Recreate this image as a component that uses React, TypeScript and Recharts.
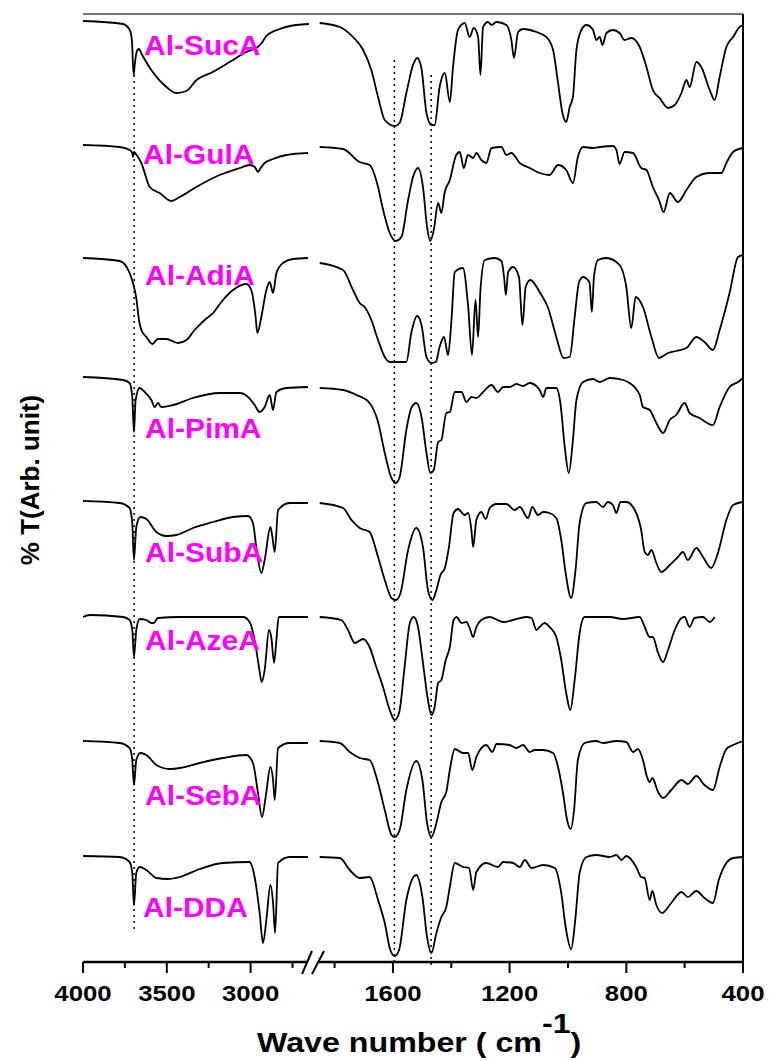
import React from 'react';
import { LineChart, Line, XAxis, YAxis, ReferenceLine } from 'recharts';

// broken wavenumber axis: 4000..2640 on the left, 1850..400 on the right
const LEFT_SCALE = 0.1676;
const RIGHT_START = 237;
const RIGHT_SCALE = 0.29172;
const pos = (w: number) => (w >= 2200 ? (4000 - w) * LEFT_SCALE : RIGHT_START + (1850 - w) * RIGHT_SCALE);
const BREAK_L = 224;
const BREAK_R = 235;

const MAJOR_TICKS = [4000, 3500, 3000, 1600, 1200, 800, 400];
const MINOR_TICKS = [3750, 3250, 2750, 1800, 1400, 1000, 600];
const MARKER_BANDS = [3695, 1595, 1469];

const names = ['Al-SucA', 'Al-GulA', 'Al-AdiA', 'Al-PimA', 'Al-SubA', 'Al-AzeA', 'Al-SebA', 'Al-DDA'];
const offsets = [941, 817, 704, 585, 461, 345, 221, 106];

// [wavenumber, %T (arb.)]
const sucA = [
  [4000, 0], [3761, -3], [3721, -9], [3708, -20], [3698, -54], [3692, -45], [3680, -31], [3666, -28], [3650, -33],
  [3584, -51], [3502, -66], [3443, -72], [3383, -70], [3323, -59], [3226, -51], [3125, -41], [3025, -31], [2958, -26],
  [2934, -22], [2906, -15], [2826, -8], [2727, -4], [2652, -3],
  [1851, -2], [1782, -6], [1737, -16], [1702, -29], [1674, -49], [1651, -76], [1628, -99], [1594, -105], [1577, -102],
  [1554, -72], [1531, -44], [1517, -37], [1503, -46], [1485, -92], [1468, -104], [1457, -104], [1440, -66], [1422, -52],
  [1405, -81], [1394, -46], [1377, -9], [1354, -2], [1337, -16], [1323, -7], [1308, -16], [1300, -54], [1291, -6],
  [1274, -1], [1262, -4], [1245, -1], [1211, -4], [1194, -19], [1185, -37], [1171, -11], [1154, -8], [1108, -11],
  [1074, -16], [1051, -29], [1034, -62], [1019, -92], [1006, -101], [994, -86], [983, -76], [971, -29], [954, -9],
  [937, -4], [914, -9], [903, -19], [891, -16], [882, -24], [868, -12], [846, -9], [823, -12], [806, -19], [783, -17],
  [754, -26], [731, -46], [709, -69], [686, -77], [657, -87], [634, -84], [611, -72], [594, -59], [583, -66], [560, -41],
  [543, -46], [514, -69], [497, -79], [480, -56], [457, -26], [434, -16], [412, -6], [400, -4],
];

const gulA = [
  [4000, 0], [3781, -2], [3721, -5], [3706, -8], [3702, -12], [3696, -7], [3680, -10], [3652, -18], [3602, -42],
  [3543, -48], [3473, -56], [3423, -52], [3324, -42], [3185, -30], [3065, -23], [3006, -20], [2975, -22], [2956, -27],
  [2940, -23], [2916, -18], [2866, -14], [2787, -10], [2657, -8],
  [1851, -2], [1771, -4], [1714, -17], [1680, -20], [1651, -42], [1636, -62], [1611, -88], [1590, -96], [1571, -92],
  [1548, -55], [1531, -32], [1514, -23], [1497, -42], [1483, -82], [1472, -96], [1460, -85], [1445, -58], [1434, -68],
  [1423, -48], [1405, -35], [1383, -10], [1371, -7], [1357, -23], [1343, -10], [1325, -13], [1314, -8], [1297, -15],
  [1280, -18], [1262, -3], [1228, -2], [1211, -10], [1194, -8], [1165, -18], [1131, -23], [1097, -28], [1063, -30],
  [1034, -20], [1006, -25], [983, -38], [966, -12], [948, -2], [914, -3], [891, -2], [846, -1], [834, -5], [823, -19],
  [806, -7], [777, -8], [749, -23], [731, -25], [709, -42], [688, -55], [672, -67], [651, -48], [623, -57], [594, -45],
  [560, -32], [514, -28], [474, -28], [457, -18], [434, -7], [400, -3],
];

const adiA = [
  [4000, 0], [3781, -3], [3722, -15], [3702, -25], [3682, -40], [3666, -62], [3652, -72], [3622, -79], [3586, -86],
  [3553, -81], [3503, -81], [3433, -85], [3383, -82], [3334, -72], [3274, -62], [3224, -55], [3165, -42], [3105, -32],
  [3025, -26], [2996, -32], [2970, -59], [2960, -75], [2936, -59], [2906, -32], [2886, -24], [2866, -35], [2846, -15],
  [2807, -5], [2747, -1], [2658, 0],
  [1851, -5], [1771, -12], [1737, -32], [1714, -45], [1697, -49], [1674, -62], [1651, -82], [1628, -99], [1611, -104],
  [1554, -104], [1537, -75], [1517, -58], [1502, -67], [1485, -99], [1468, -105], [1453, -104], [1440, -89], [1425, -79],
  [1411, -97], [1400, -65], [1388, -14], [1360, -10], [1342, -49], [1329, -97], [1317, -42], [1308, -79], [1300, -32],
  [1285, -2], [1251, 0], [1228, -3], [1219, -19], [1213, -37], [1205, -14], [1188, -9], [1168, -19], [1156, -67],
  [1145, -29], [1129, -22], [1097, -34], [1068, -50], [1040, -79], [1015, -100], [994, -99], [977, -59], [962, -24],
  [948, -19], [935, -21], [926, -25], [918, -54], [911, -19], [897, -2], [869, 0], [823, -7], [800, -29], [783, -70],
  [768, -39], [743, -49], [714, -79], [688, -100], [657, -95], [629, -93], [594, -90], [560, -79], [532, -84], [503, -92],
  [480, -72], [446, -35], [417, 1], [400, 3],
];

const pimA = [
  [4000, 0], [3761, -3], [3722, -6], [3706, -20], [3696, -55], [3686, -23], [3662, -11], [3632, -15], [3592, -23],
  [3572, -30], [3553, -26], [3533, -30], [3463, -28], [3344, -21], [3185, -16], [3065, -16], [3015, -20], [2976, -28],
  [2946, -35], [2916, -30], [2886, -18], [2866, -33], [2846, -15], [2787, -11], [2658, -10],
  [1851, -11], [1771, -13], [1725, -18], [1680, -26], [1651, -45], [1628, -76], [1605, -101], [1590, -106], [1577, -100],
  [1554, -53], [1537, -31], [1520, -26], [1502, -40], [1485, -76], [1472, -96], [1460, -93], [1445, -65], [1434, -63],
  [1417, -36], [1405, -35], [1388, -15], [1365, -15], [1348, -25], [1331, -20], [1314, -21], [1291, -15], [1262, -8],
  [1240, -15], [1222, -10], [1200, -10], [1177, -7], [1154, -9], [1131, -6], [1097, -13], [1085, -20], [1074, -11],
  [1040, -11], [1026, -26], [1011, -70], [997, -96], [983, -63], [971, -23], [948, -5], [914, -2], [891, -5], [857, -1],
  [811, -3], [789, -6], [754, -18], [743, -30], [720, -33], [697, -46], [674, -56], [651, -43], [629, -38], [600, -26],
  [583, -36], [549, -41], [503, -48], [480, -30], [446, -10], [417, -5], [400, -1],
];

const subA = [
  [4000, 0], [3781, -2], [3722, -7], [3706, -22], [3696, -59], [3682, -26], [3658, -16], [3622, -18], [3562, -31],
  [3503, -35], [3443, -34], [3344, -27], [3224, -21], [3105, -16], [3015, -15], [2986, -22], [2966, -46], [2936, -72],
  [2916, -59], [2882, -26], [2870, -36], [2856, -51], [2836, -9], [2767, -2], [2658, -2],
  [1851, -2], [1771, -7], [1742, -19], [1714, -27], [1680, -31], [1651, -56], [1628, -79], [1605, -97], [1590, -99],
  [1574, -92], [1548, -49], [1520, -27], [1497, -46], [1480, -89], [1465, -99], [1451, -89], [1437, -74], [1422, -67],
  [1408, -46], [1392, -12], [1377, -8], [1354, -14], [1342, -12], [1331, -29], [1325, -46], [1314, -19], [1297, -11],
  [1282, -18], [1268, -7], [1245, -3], [1211, -3], [1183, -9], [1165, -6], [1137, -17], [1122, -6], [1103, -14],
  [1085, -11], [1063, -12], [1040, -17], [1023, -39], [1008, -72], [989, -97], [974, -69], [960, -22], [937, -2],
  [903, -1], [880, -6], [863, -1], [846, -4], [834, -12], [820, -1], [800, -1], [771, -9], [749, -29], [737, -51],
  [726, -54], [714, -49], [697, -62], [680, -71], [651, -64], [623, -56], [606, -51], [589, -59], [560, -47], [537, -56],
  [509, -67], [486, -52], [457, -19], [434, -4], [400, -1],
];

const azeA = [
  [4000, 0], [3960, 2], [3761, 0], [3722, -3], [3706, -13], [3696, -40], [3682, -13], [3662, -2], [3622, -3],
  [3592, -6], [3578, -6], [3553, -1], [3423, 0], [3224, 0], [3045, 0], [3006, -5], [2976, -23], [2950, -50],
  [2934, -65], [2916, -53], [2890, -13], [2876, -21], [2860, -46], [2846, -23], [2832, 0], [2658, 0],
  [1851, 0], [1777, -3], [1754, -13], [1731, -26], [1702, -22], [1680, -30], [1657, -50], [1634, -70], [1611, -93],
  [1594, -103], [1579, -96], [1560, -50], [1542, -6], [1529, 0], [1514, -10], [1497, -46], [1480, -83], [1468, -98],
  [1457, -90], [1445, -66], [1434, -63], [1419, -43], [1405, -30], [1392, -3], [1382, 0], [1365, -6], [1348, -5],
  [1337, -11], [1325, -20], [1314, -10], [1297, -3], [1268, 0], [1222, -5], [1188, -3], [1143, 0], [1125, -1],
  [1108, -13], [1097, -10], [1080, -6], [1063, -10], [1040, -20], [1023, -43], [1006, -76], [992, -93], [977, -63],
  [960, -16], [943, 0], [903, 0], [857, 0], [811, -2], [754, 0], [737, -10], [720, -20], [709, -20], [691, -36],
  [674, -45], [657, -33], [634, -13], [611, -1], [600, 0], [583, -10], [566, -1], [537, 0], [514, -5], [497, 0],
];

const sebA = [
  [4000, 0], [3781, -2], [3722, -7], [3706, -19], [3696, -44], [3682, -19], [3658, -12], [3622, -14], [3562, -24],
  [3483, -28], [3423, -27], [3304, -22], [3165, -17], [3025, -14], [2986, -22], [2956, -52], [2932, -76], [2910, -56],
  [2882, -26], [2866, -39], [2856, -59], [2836, -7], [2767, -2], [2658, -2],
  [1851, 0], [1782, -2], [1748, -11], [1714, -17], [1680, -19], [1651, -42], [1628, -69], [1605, -94], [1594, -96],
  [1577, -89], [1554, -49], [1520, -20], [1499, -39], [1483, -82], [1468, -96], [1451, -82], [1434, -61], [1417, -51],
  [1405, -29], [1388, -8], [1360, -12], [1342, -12], [1328, -29], [1314, -16], [1280, -4], [1259, -11], [1245, -3],
  [1200, -4], [1177, -7], [1154, -4], [1131, -11], [1114, -9], [1085, -9], [1051, -12], [1034, -26], [1017, -52],
  [1003, -79], [991, -88], [979, -69], [966, -19], [943, -2], [903, 0], [880, -2], [834, 0], [800, -1], [777, -11],
  [760, -8], [743, -19], [729, -36], [720, -41], [711, -37], [691, -51], [674, -57], [646, -49], [611, -39], [589, -43],
  [560, -35], [532, -44], [503, -49], [480, -26], [457, -8], [434, -4], [400, 0],
];

const ddA = [
  [4000, 0], [3781, -1], [3722, -6], [3706, -17], [3696, -49], [3682, -17], [3662, -11], [3622, -14], [3562, -22],
  [3493, -23], [3423, -21], [3304, -13], [3165, -7], [3006, -6], [2976, -21], [2946, -57], [2926, -87], [2906, -64],
  [2882, -29], [2866, -47], [2854, -77], [2836, -7], [2767, -1], [2658, -1],
  [1851, -1], [1782, -2], [1748, -14], [1714, -22], [1680, -21], [1651, -44], [1628, -67], [1609, -94], [1594, -100],
  [1579, -94], [1554, -44], [1520, -19], [1499, -41], [1483, -81], [1468, -97], [1451, -77], [1434, -61], [1417, -51],
  [1405, -31], [1388, -7], [1360, -11], [1339, -12], [1325, -34], [1314, -16], [1280, -7], [1240, -11], [1222, -6],
  [1188, -7], [1165, -11], [1148, -4], [1125, -12], [1085, -9], [1045, -12], [1023, -37], [1008, -71], [989, -93],
  [975, -64], [960, -17], [937, -1], [903, 1], [857, -1], [834, 1], [817, -4], [800, 0], [766, -11], [749, -21],
  [737, -22], [720, -44], [711, -35], [697, -49], [677, -57], [646, -47], [611, -36], [589, -41], [560, -35], [532, -42],
  [503, -47], [483, -24], [457, -7], [434, -2], [400, -1],
];

const spectra = [sucA, gulA, adiA, pimA, subA, azeA, sebA, ddA];

// label anchor (left, baseline) in page px
const labelPos = [[144, 55], [143, 164], [145, 285], [145, 438], [145, 562], [145, 650], [145, 805], [143, 917]];

const FONT = '"Liberation Sans", Arial, Helvetica, sans-serif';

const toSeries = (pts: number[][], offset: number) => {
  const out: { x: number; y: number | null }[] = [];
  pts.forEach(([w, t], i) => {
    if (i > 0 && pts[i - 1][0] >= 2200 && w < 2200) {
      out.push({ x: (BREAK_L + BREAK_R) / 2, y: null });
    }
    out.push({ x: pos(w), y: offset + t });
  });
  return out;
};

const allTicks = [...MAJOR_TICKS, ...MINOR_TICKS];

const AxisTick = (props: any) => {
  const { x, y, payload } = props;
  const wave = allTicks.find((w) => Math.abs(pos(w) - payload.value) < 0.01) ?? 0;
  const major = MAJOR_TICKS.includes(wave);
  return (
    <g>
      <line x1={x} x2={x} y1={y} y2={y + (major ? 11 : 6)} stroke="#000" strokeWidth={2} />
      {major && (
        <g transform={`translate(${x},${y + 39}) scale(1.12,1)`}>
          <text textAnchor="middle" fontSize={23} fontWeight="bold" fontFamily={FONT} fill="#000">
            {wave}
          </text>
        </g>
      )}
    </g>
  );
};

export default function App() {
  const seriesList = spectra.map((s, i) => toSeries(s, offsets[i]));
  const seg = { stroke: '#000', strokeWidth: 2.5, ifOverflow: 'visible' as const };

  return (
    <div style={{ position: 'absolute', left: 0, top: 0, width: 770, height: 1061, background: '#fff' }}>
      <LineChart width={770} height={1061} margin={{ top: 14, right: 27, bottom: 0, left: 83 }}>
        <XAxis
          type="number"
          dataKey="x"
          domain={[0, 660]}
          ticks={allTicks.map(pos)}
          interval={0}
          tick={<AxisTick />}
          tickLine={false}
          axisLine={false}
          tickSize={0}
          tickMargin={0}
          height={99}
          allowDataOverflow
        />
        <YAxis
          type="number"
          domain={[0, 948]}
          width={0}
          tick={false}
          tickLine={false}
          axisLine={{ stroke: '#000', strokeWidth: 2 }}
        />
        <ReferenceLine y={948} stroke="#444" strokeWidth={1.5} />
        <ReferenceLine x={660} stroke="#000" strokeWidth={2} />
        <ReferenceLine segment={[{ x: 0, y: 0 }, { x: BREAK_L, y: 0 }]} {...seg} />
        <ReferenceLine segment={[{ x: BREAK_R, y: 0 }, { x: 660, y: 0 }]} {...seg} />
        <ReferenceLine segment={[{ x: BREAK_L - 5, y: -12 }, { x: BREAK_L + 5, y: 11 }]} {...seg} strokeWidth={2} />
        <ReferenceLine segment={[{ x: BREAK_R - 6, y: -12 }, { x: BREAK_R + 6, y: 11 }]} {...seg} strokeWidth={2} />
        <ReferenceLine
          segment={[{ x: pos(MARKER_BANDS[0]), y: 887 }, { x: pos(MARKER_BANDS[0]), y: 29 }]}
          stroke="#000"
          strokeWidth={1.5}
          strokeDasharray="2 4"
        />
        <ReferenceLine
          segment={[{ x: pos(MARKER_BANDS[1]), y: 902 }, { x: pos(MARKER_BANDS[1]), y: 0 }]}
          stroke="#000"
          strokeWidth={1.5}
          strokeDasharray="2 4"
        />
        <ReferenceLine
          segment={[{ x: pos(MARKER_BANDS[2]), y: 887 }, { x: pos(MARKER_BANDS[2]), y: -4 }]}
          stroke="#000"
          strokeWidth={1.5}
          strokeDasharray="2 4"
          ifOverflow="visible"
        />
        {seriesList.map((data, i) => (
          <Line
            key={names[i]}
            data={data}
            dataKey="y"
            type="monotone"
            stroke="#000"
            strokeWidth={1.8}
            dot={false}
            activeDot={false}
            connectNulls={false}
            isAnimationActive={false}
          />
        ))}
      </LineChart>
      <svg
        width={770}
        height={1061}
        style={{ position: 'absolute', left: 0, top: 0, pointerEvents: 'none' }}
        fontFamily={FONT}
        fontWeight="bold"
      >
        {names.map((n, i) => (
          <g key={n} transform={`translate(${labelPos[i][0]},${labelPos[i][1]}) scale(1.07,1)`}>
            <text fontSize={28} fill="#FF00FF">
              {n}
            </text>
          </g>
        ))}
        <g transform="translate(257,1052) scale(1.15,1)">
          <text fontSize={28} fill="#000">
            Wave number ( cm
            <tspan dy={-19}>-1</tspan>
            <tspan dy={19}>)</tspan>
          </text>
        </g>
        <text transform="translate(39,480) rotate(-90)" textAnchor="middle" fontSize={26} fill="#000">
          % T(Arb. unit)
        </text>
      </svg>
    </div>
  );
}
